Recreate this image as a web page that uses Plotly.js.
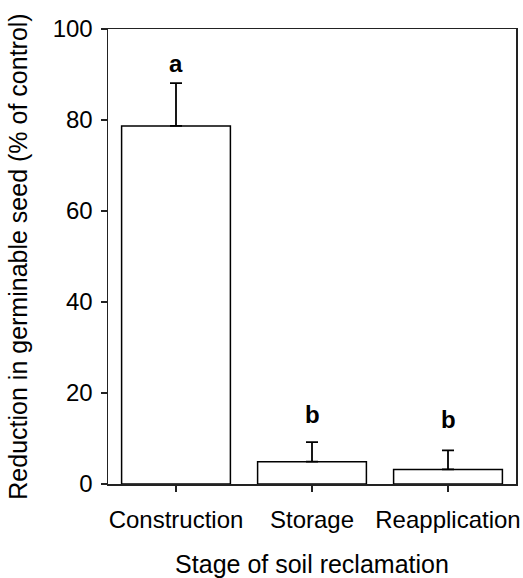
<!DOCTYPE html>
<html>
<head>
<meta charset="utf-8">
<script src="https://cdn.plot.ly/plotly-3.0.1.min.js"></script>
<style>html,body{margin:0;padding:0;background:#fff;}#chart{width:523px;height:578px;}</style>
</head>
<body>
<div id="chart"></div>
<script>
const categories = ["Construction", "Storage", "Reapplication"];
const meanValues = [78.7, 4.9, 3.2];
const errorValues = [9.4, 4.3, 4.2];
const letterLabels = ["a", "b", "b"];
const letterHeights = [92.5, 15.2, 14.1];
const yTickValues = [0, 20, 40, 60, 80, 100];

const font = "Liberation Sans, Arial, sans-serif";

const trace = {
  type: "bar",
  x: categories,
  y: meanValues,
  width: 0.8,
  marker: {color: "#ffffff", line: {color: "#000000", width: 1.5}},
  error_y: {type: "data", array: errorValues, arrayminus: categories.map(() => 0), symmetric: false,
            color: "#000000", thickness: 1.8, width: 6},
  hoverinfo: "none"
};

const annotations = categories.map((c, i) => ({
  x: c, y: letterHeights[i], xref: "x", yref: "y", text: "<b>" + letterLabels[i] + "</b>",
  showarrow: false, font: {family: font, size: 24, color: "#000"}
}));

const layout = {
  width: 523, height: 578,
  margin: {l: 108, r: 7, t: 29, b: 94},
  paper_bgcolor: "#fff", plot_bgcolor: "#fff",
  showlegend: false,
  font: {family: font, size: 24, color: "#000"},
  xaxis: {
    range: [-0.5, 2.5], showline: true, linecolor: "#222", linewidth: 1.5, mirror: true,
    ticks: "outside", ticklen: 6, tickwidth: 1.2, tickcolor: "#222", ticklabelstandoff: 8,
    tickfont: {family: font, size: 24}, showgrid: false, zeroline: false, fixedrange: true,
    title: {text: "Stage of soil reclamation", font: {family: font, size: 25}, standoff: 24}
  },
  yaxis: {
    range: [0, 100], tickvals: yTickValues, showline: true, linecolor: "#222", linewidth: 1.5, mirror: true,
    ticks: "outside", ticklen: 6, tickwidth: 1.2, tickcolor: "#222", ticklabelstandoff: 3,
    tickfont: {family: font, size: 24}, showgrid: false, zeroline: false, fixedrange: true,
    title: {text: "Reduction in germinable seed (% of control)", font: {family: font, size: 25}, standoff: 18}
  },
  annotations: annotations
};

Plotly.newPlot("chart", [trace], layout, {displayModeBar: false, staticPlot: true});
</script>
</body>
</html>
